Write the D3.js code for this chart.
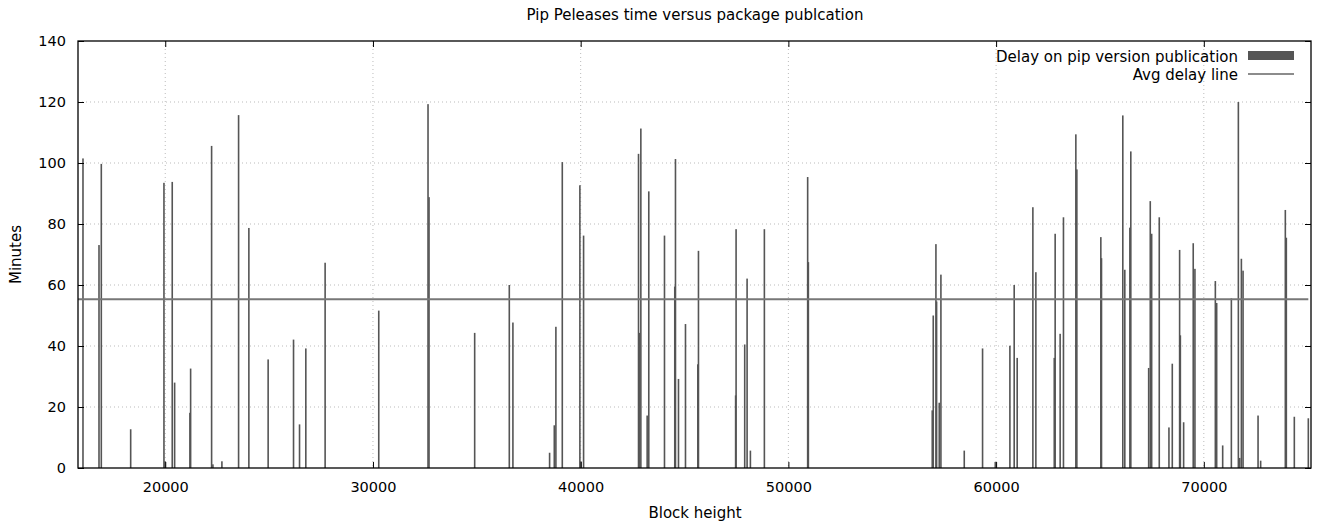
<!DOCTYPE html>
<html>
<head>
<meta charset="utf-8">
<script src="https://cdn.jsdelivr.net/npm/d3@7"></script>
<style>
  body { margin: 0; background: #fff; }
  text { font-family: "DejaVu Sans", sans-serif; fill: #000; }
</style>
</head>
<body>
<div id="grafico"></div>
<script>
// Datos (altura de bloque, minutos)
var bloques = [16040, 16811, 16922, 18336, 19938, 19986, 20337, 20452, 21188, 21222,
  22232, 22295, 22728, 23531, 24026, 24954, 26176, 26465, 26768, 27697,
  30279, 32651, 32699, 34897, 36564, 36738, 38504, 38730, 38807, 39115,
  39962, 40010, 40140, 42785, 42817, 42897, 43201, 43279, 44035, 44530, 44564,
  44709, 45046, 45640, 45671, 47460, 47482, 47897, 48012, 48171, 48844, 50928, 50962,
  56926, 56974, 57103, 57135, 57263, 57343, 58467, 59348, 59960, 60664, 60871,
  61015, 61770, 61914, 62800, 62843, 63083, 63243, 63839, 63887, 65042, 65074,
  66100, 66196, 66440, 66485, 67345, 67422, 67489, 67855, 68321, 68482, 68835, 68870,
  69028, 69490, 69572, 70555, 70619, 70908, 71326, 71663, 71727, 71808, 71889,
  72611, 72736, 73924, 73972, 74357, 75031];
var minutos = [101.5, 73.1, 99.7, 12.7, 93.5, 2.2, 93.8, 28.0, 18.1, 32.6,
  105.6, 1.2, 2.2, 115.7, 78.7, 35.6, 42.1, 14.3, 39.2, 67.3,
  51.6, 119.3, 88.8, 44.3, 60.0, 47.7, 5.0, 14.0, 46.3, 100.3,
  92.7, 2.2, 76.2, 103.0, 44.3, 111.3, 17.2, 90.7, 76.2, 59.5, 101.3,
  29.2, 47.2, 34.0, 71.2, 23.8, 78.3, 40.5, 62.1, 5.7, 78.3, 95.4, 67.5,
  18.9, 50.0, 73.4, 54.6, 21.4, 63.4, 5.7, 39.2, 2.0, 40.1, 60.0,
  36.1, 85.5, 64.2, 36.1, 76.8, 44.0, 82.2, 109.4, 97.9, 75.7, 68.8,
  115.6, 65.0, 78.8, 103.8, 32.8, 87.5, 76.8, 82.2, 13.3, 34.2, 71.5, 43.5,
  15.0, 73.7, 65.3, 61.3, 54.1, 7.4, 55.6, 120.0, 3.3, 68.6, 64.7,
  17.2, 2.4, 84.6, 75.5, 16.8, 16.3];
var promedio = 55.3;
var ticksX = [20000, 30000, 40000, 50000, 60000, 70000];
var ticksY = [0, 20, 40, 60, 80, 100, 120, 140];

var datos = bloques.map(function(b, i) { return { bloque: b, valor: minutos[i] }; });

var width = 1319, height = 523;
var margin = { top: 41, right: 8, bottom: 55, left: 78 };
var ancho = width - margin.left - margin.right;
var alto = height - margin.top - margin.bottom;

var svg = d3.select("#grafico")
  .append("svg")
  .attr("width", width)
  .attr("height", height);

var x = d3.scaleLinear().domain([15800, 75160]).range([0, ancho]);
var y = d3.scaleLinear().domain([0, 140]).range([alto, 0]);

var g = svg.append("g")
  .attr("transform", "translate(" + margin.left + "," + margin.top + ")");

// Rejilla punteada
g.selectAll(".gx").data(ticksX).enter().append("line")
  .attr("x1", function(d) { return x(d); }).attr("x2", function(d) { return x(d); })
  .attr("y1", 0).attr("y2", alto)
  .attr("stroke", "#bbb").attr("stroke-width", 1).attr("stroke-dasharray", "1,3");
g.selectAll(".gy").data(ticksY.slice(1, -1)).enter().append("line")
  .attr("x1", 0).attr("x2", ancho)
  .attr("y1", function(d) { return y(d); }).attr("y2", function(d) { return y(d); })
  .attr("stroke", "#bbb").attr("stroke-width", 1).attr("stroke-dasharray", "1,3");

// Barras
g.selectAll(".barra").data(datos).enter().append("rect")
  .attr("x", function(d) { return x(d.bloque) - 0.8; })
  .attr("width", 1.6)
  .attr("y", function(d) { return y(d.valor); })
  .attr("height", function(d) { return alto - y(d.valor); })
  .attr("fill", "#555");

// Linea de promedio
g.append("line")
  .attr("x1", 0).attr("x2", x(d3.max(bloques)))
  .attr("y1", y(promedio)).attr("y2", y(promedio))
  .attr("stroke", "#777").attr("stroke-width", 2);

// Ejes
var ejeX = g.append("g").attr("transform", "translate(0," + alto + ")")
  .call(d3.axisBottom(x).tickValues(ticksX).tickSize(-6).tickPadding(14).tickFormat(d3.format("d")));
var ejeX2 = g.append("g")
  .call(d3.axisTop(x).tickValues(ticksX).tickSize(-6).tickFormat(""));
var ejeY = g.append("g")
  .call(d3.axisLeft(y).tickValues(ticksY).tickSize(-6).tickPadding(12));
var ejeY2 = g.append("g").attr("transform", "translate(" + ancho + ",0)")
  .call(d3.axisRight(y).tickValues(ticksY).tickSize(-6).tickFormat(""));
[ejeX, ejeX2, ejeY, ejeY2].forEach(function(e) {
  e.select(".domain").remove();
  e.selectAll("line").attr("stroke", "#000");
  e.selectAll("text").style("font-size", "14.5px").style("font-family", "DejaVu Sans, sans-serif");
});

g.append("rect")
  .attr("width", ancho).attr("height", alto)
  .attr("fill", "none").attr("stroke", "#000").attr("stroke-width", 1.3);

// Titulos
svg.append("text").attr("x", 695).attr("y", 20).attr("text-anchor", "middle")
  .style("font-size", "15px").text("Pip Peleases time versus package publcation");
svg.append("text").attr("x", 695).attr("y", 518).attr("text-anchor", "middle")
  .style("font-size", "15px").text("Block height");
svg.append("text").attr("transform", "translate(21," + (margin.top + alto / 2) + ") rotate(-90)")
  .attr("text-anchor", "middle").style("font-size", "15px").text("Minutes");

// Leyenda
var ley = svg.append("g");
ley.append("text").attr("x", 1238).attr("y", 62).attr("text-anchor", "end")
  .style("font-size", "15px").text("Delay on pip version publication");
ley.append("rect").attr("x", 1248).attr("y", 51).attr("width", 46).attr("height", 9).attr("fill", "#555");
ley.append("text").attr("x", 1238).attr("y", 80).attr("text-anchor", "end")
  .style("font-size", "15px").text("Avg delay line");
ley.append("line").attr("x1", 1248).attr("x2", 1294).attr("y1", 74).attr("y2", 74)
  .attr("stroke", "#666").attr("stroke-width", 1.5);
</script>
</body>
</html>
